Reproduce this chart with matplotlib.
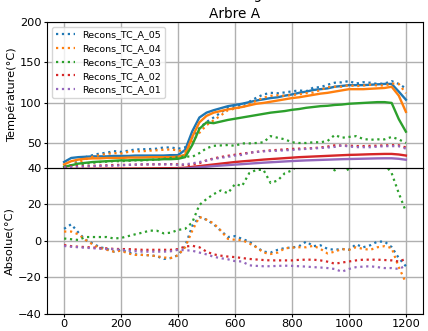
"""Arbre A: measured vs reconstructed thermocouple temperatures, and their difference."""
import numpy as np
import matplotlib
matplotlib.use("Agg")
import matplotlib.pyplot as plt

# time axis (s), one reading every 25 s
temps_s = np.arange(0, 1225, 25)

labels = ["Recons_TC_A_05", "Recons_TC_A_04", "Recons_TC_A_03",
          "Recons_TC_A_02", "Recons_TC_A_01"]
colors = ["#1f77b4", "#ff7f0e", "#2ca02c", "#d62728", "#9467bd"]

# measured (solid lines)
mes_05 = [27, 32, 33, 33.5, 34, 34, 34, 34.5, 34.5, 34.5, 35, 35, 35, 35, 35, 35.5, 35.5,
          42, 65, 82, 88, 91, 93.5, 96, 97.5, 99, 101, 103, 104.5, 106, 107, 109, 110.5,
          112.5, 114, 116, 117, 118, 120, 121, 122, 122, 122, 122.5, 123, 123.5, 123.5, 114, 104]
mes_04 = [24, 28, 30, 31, 31.5, 31.5, 32, 32, 32, 32.5, 32.5, 32.5, 33, 33, 33, 33, 33.5,
          36, 58, 76, 84, 88, 90, 92, 93.5, 95, 97, 99, 100, 101.5, 103, 104.5, 106,
          107, 108.5, 110, 111.5, 112.5, 114, 115.5, 117, 117, 117, 117.5, 118, 118.5, 120, 109, 89]
mes_03 = [21, 23, 25, 26, 27, 27.5, 28, 28.5, 29, 29, 29.5, 29.5, 30, 30, 30.5, 30.5, 31,
          33, 48, 68, 76, 75, 77, 79, 80.5, 82, 83.5, 85, 86.5, 88, 89, 90, 91.5,
          92.5, 94, 95, 96, 96.5, 97.5, 98, 99, 99.5, 100, 100.5, 101, 101, 100, 80, 64.5]
mes_02 = [18.5, 18.5, 18.6, 18.6, 18.7, 18.7, 18.8, 18.8, 18.9, 18.9, 19, 19, 19.1, 19.2, 19.3, 19.4, 19.5,
          20, 21, 22, 23, 24, 25, 26, 27, 27.8, 28.5, 29.2, 30, 30.6, 31.2, 31.8, 32.4,
          33, 33.4, 33.8, 34.2, 34.6, 35, 35.4, 35.8, 36, 36.3, 36.6, 36.8, 37, 37, 36.3, 35]
mes_01 = [17.5, 17.5, 17.6, 17.6, 17.7, 17.7, 17.8, 17.8, 17.9, 17.9, 18, 18, 18.1, 18.1, 18.2, 18.3, 18.5,
          19, 19.8, 20.5, 21.2, 22, 22.6, 23.2, 23.8, 24.4, 25, 25.6, 26.2, 26.7, 27.2, 27.7, 28.2,
          28.6, 29, 29.3, 29.6, 29.9, 30.2, 30.5, 30.7, 30.9, 31.1, 31.3, 31.5, 31.6, 31.6, 31, 29.8]

# reconstructed (dotted lines)
rec_05 = [20.5, 23, 28.5, 33, 35.5, 37.5, 38.5, 40.5, 39.5, 41, 42.5, 42.8, 43, 43.5, 45, 45, 43.5,
          45, 57, 69, 76.5, 82, 88, 94, 95, 98, 101.5, 106.5, 110.5, 112.5, 112, 113, 114.3,
          115.5, 114.5, 119, 119.5, 122.5, 125, 125.5, 127, 124, 125.6, 125, 123.5, 124, 127, 123.5, 118]
rec_04 = [19, 23, 26.5, 30.5, 33.5, 35.5, 37, 38, 37.5, 39.5, 40.3, 40.3, 41, 41.5, 42.2, 42.5, 41.5,
          39.6, 52.5, 63, 72.5, 78.5, 84.5, 91, 93, 94.7, 98.5, 102.6, 106.5, 108.8, 109.5, 108.7, 109.8,
          110.6, 112.1, 112.8, 116, 119.5, 120, 120.1, 122, 120.6, 121.5, 122.5, 121.6, 121.5, 124, 123.5, 112]
rec_03 = [21, 22.5, 24, 25, 26, 27, 27.5, 28, 28, 28.5, 29, 29, 29.5, 30, 31, 32, 33,
          34, 33.5, 38, 44, 47, 47.5, 48, 47, 50, 50, 50.5, 51.4, 59, 57, 55, 51.4,
          50.5, 50.5, 51.4, 51.4, 53, 60.4, 57, 58, 59, 55.5, 54.5, 55, 55, 58, 55, 50.5]
rec_02 = [20.9, 21.5, 21.9, 22.1, 22.4, 22.7, 23, 23.3, 23.5, 23.5, 23.8, 24, 24.1, 24.2, 24.3, 24.4, 24.1,
          23.2, 23.8, 25.6, 29, 31.5, 33.2, 34.7, 36, 37.3, 38.5, 39.5, 40.6, 41.4, 42, 42.6, 43.2,
          43.5, 43.8, 44.2, 45, 46.1, 47.6, 47.4, 47.2, 46.8, 46.7, 47, 47.2, 47.6, 47.8, 47.7, 45]
rec_01 = [20.4, 20.8, 21.2, 21.5, 21.8, 22.1, 22.4, 22.4, 22.9, 23.4, 23.8, 24, 24.1, 24.1, 24.2, 24.1, 23.5,
          24.2, 25.3, 27, 28.7, 30.8, 32.2, 33.4, 35, 35.8, 38.5, 39.4, 40.2, 40.7, 41, 41.4, 42,
          42.6, 43.2, 43.8, 44.3, 44.9, 45.7, 47.5, 46.2, 45.4, 45.3, 45.3, 46, 46.6, 46.6, 46.5, 43.5]

# absolute difference measured - reconstructed (bottom panel)
abs_05 = [6.5, 9, 4.5, 0.5, -1.5, -3.5, -4.5, -6, -5, -6.5, -7.5, -7.8, -8, -8.5, -10, -9.5, -8,
          -3, 8, 13, 11.5, 9, 5.5, 2, 2.5, 1, -0.5, -3.5, -6, -6.5, -5, -4, -3.8,
          -3, -0.5, -3, -2.5, -4.5, -5, -4.5, -5, -2, -3.6, -2.5, -0.5, -0.5, -3.5, -9.5, -14]
abs_04 = [5, 5, 3.5, 0.5, -2, -4, -5, -6, -5.5, -7, -7.8, -7.8, -8, -8.5, -9.2, -9.5, -8,
          -3.6, 5.5, 13, 11.5, 9.5, 5.5, 1, 0.5, 0.3, -1.5, -3.6, -6.5, -7.3, -6.5, -4.2, -3.8,
          -3.6, -3.6, -2.8, -4.5, -7, -6, -4.6, -5, -3.6, -4.5, -5, -3.6, -3, -4, -14.5, -23]
abs_03 = [1.2, 0.8, 0.4, 2, 2, 2, 2, 1.2, 1.5, 2.5, 3.5, 4.4, 5.5, 5.5, 4, 4.4, 5.9,
          6.5, 10, 19.6, 22.8, 25.5, 27.5, 26, 31, 30, 37, 38.8, 38.8, 31.6, 33, 37, 38.5,
          42, 43, 44, 45, 43, 38.5, 44, 38, 44, 45, 46, 45, 42, 37, 26, 16]
abs_02 = [-2.4, -3, -3.3, -3.5, -3.7, -4, -4.2, -4.5, -4.6, -4.6, -4.8, -5, -5, -5, -5, -5, -4.6,
          -3.2, -2.8, -3.6, -6, -7.5, -8.2, -8.7, -9, -9.5, -10, -10.3, -10.6, -10.8, -10.8, -10.8, -10.8,
          -10.5, -10.4, -10.4, -10.8, -11.5, -12.6, -12, -11.4, -10.8, -10.4, -10.4, -10.4, -10.6, -10.8, -11.4, -10]
abs_01 = [-2.9, -3.3, -3.6, -3.9, -4.1, -4.4, -4.6, -4.6, -5, -5.5, -5.8, -6, -6, -6, -6, -5.8, -5,
          -5.2, -5.5, -6.5, -7.5, -8.8, -9.6, -10.2, -11.2, -11.4, -13.5, -13.8, -14, -14, -13.8, -13.7, -13.8,
          -14, -14.2, -14.5, -14.7, -15, -15.5, -17, -15.5, -14.5, -14.2, -14, -14.5, -15, -15, -15.5, -13.7]

mesures = [mes_05, mes_04, mes_03, mes_02, mes_01]
recons = [rec_05, rec_04, rec_03, rec_02, rec_01]
absolues = [abs_05, abs_04, abs_03, abs_02, abs_01]

SCALE = 0.82
plt.rcParams.update({
    "font.size": 10 * SCALE,
    "axes.linewidth": 0.8,
    "xtick.major.size": 2.5,
    "ytick.major.size": 2.5,
    "xtick.major.pad": 1.5,
    "ytick.major.pad": 1.5,
})

fig = plt.figure(figsize=(4.28, 3.31), dpi=100)
ax1 = fig.add_axes([0.1098, 0.4934, 0.8785, 0.4401])
ax2 = fig.add_axes([0.1098, 0.0523, 0.8785, 0.4411], sharex=ax1)

for mes, rec, c, lab in zip(mesures, recons, colors, labels):
    ax1.plot(temps_s, mes, color=c, lw=1.7)
    ax1.plot(temps_s, rec, color=c, lw=1.6, ls=":", label=lab)

for diff, c in zip(absolues, colors):
    ax2.plot(temps_s, diff, color=c, lw=1.6, ls=":")

ax1.set_ylim(20, 200)
ax1.set_yticks([50, 100, 150, 200])
ax1.set_ylabel("Température(°C)", labelpad=2)
ax1.set_title("Arbre A", fontsize=12 * SCALE, pad=3)
ax1.tick_params(labelbottom=False)
ax1.grid(True, color="#b0b0b0", lw=1.0)
ax1.legend(loc="upper left", fontsize=8.33 * SCALE, handlelength=2.0)

ax2.set_ylim(-40, 40)
ax2.set_yticks([-40, -20, 0, 20, 40])
ax2.set_xlim(-60, 1260)
ax2.set_ylabel("Absolue(°C)", labelpad=2)
ax2.grid(True, color="#b0b0b0", lw=1.0)

# suptitle sitting just above the canvas, only its descender shows
fig.text(0.465, 1.0045, "Reconstruction du signal", ha="center", va="baseline",
         fontsize=12 * SCALE)

fig.savefig("out.png", dpi=100)
